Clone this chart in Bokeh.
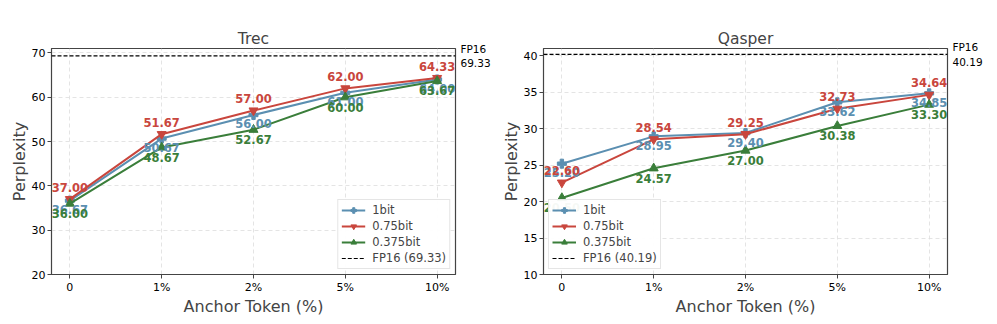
from bokeh.plotting import figure
from bokeh.layouts import row
from bokeh.models import ColumnDataSource, FixedTicker, Legend, LegendItem, Span, Range1d, LinearAxis
from bokeh.embed import file_html
from bokeh.resources import INLINE

x_labels = ["0", "1%", "2%", "5%", "10%"]
x_pos = [0, 1, 2, 3, 4]

trec_1bit = [36.67, 50.67, 56.00, 61.00, 64.00]
trec_075bit = [37.00, 51.67, 57.00, 62.00, 64.33]
trec_0375bit = [36.00, 48.67, 52.67, 60.00, 63.67]
trec_fp16 = 69.33

qasper_1bit = [25.20, 28.95, 29.40, 33.62, 34.85]
qasper_075bit = [22.60, 28.54, 29.25, 32.73, 34.64]
qasper_0375bit = [20.50, 24.57, 27.00, 30.38, 33.30]
qasper_fp16 = 40.19

BLUE = "#5b8fb1"
RED = "#c9463d"
GREEN = "#3a7e3a"
FONT = "DejaVu Sans"


def style_axis(ax):
    ax.major_label_text_font = FONT
    ax.major_label_text_font_size = "11px"
    ax.major_label_text_color = "black"
    ax.axis_label_text_font = FONT
    ax.axis_label_text_font_size = "16px"
    ax.axis_label_text_font_style = "normal"
    ax.axis_line_color = "#444444"
    ax.major_tick_line_color = "#444444"
    ax.major_tick_in = 0
    ax.major_tick_out = 4
    ax.minor_tick_line_color = None
    ax.major_label_standoff = 2
    ax.axis_label_standoff = 0


def make(title, s1, s2, s3, fp16, yr, yticks, legend_loc, bl, br):
    p = figure(output_backend="svg", toolbar_location=None,
               frame_width=404, frame_height=226,
               min_border_left=bl, min_border_right=br, min_border_top=48, min_border_bottom=34,
               x_range=Range1d(-0.2, 4.2), y_range=Range1d(*yr))
    p.title.text = title
    p.title.align = "center"
    p.title.text_font = FONT
    p.title.text_font_size = "15.5px"
    p.title.text_font_style = "normal"
    p.title.standoff = 2

    p.xaxis.ticker = FixedTicker(ticks=x_pos)
    p.xaxis.major_label_overrides = {i: l for i, l in zip(x_pos, x_labels)}
    p.yaxis.ticker = FixedTicker(ticks=yticks)
    style_axis(p.xaxis[0])
    style_axis(p.yaxis[0])
    p.xaxis.axis_label = "Anchor Token (%)"
    p.yaxis.axis_label = "Perplexity"
    p.outline_line_color = "#444444"
    p.outline_line_width = 1.2
    for g in (p.xgrid, p.ygrid):
        g.grid_line_color = "#dddddd"
        g.grid_line_dash = "4 3"
        g.grid_line_width = 0.8

    items = []
    specs = [("1bit", s1, BLUE, "plus"), ("0.75bit", s2, RED, "inverted_triangle"),
             ("0.375bit", s3, GREEN, "triangle")]
    for name, vals, col, mk in specs:
        src = ColumnDataSource(dict(x=x_pos, y=vals))
        l = p.line("x", "y", source=src, line_color=col, line_width=2)
        m = p.scatter("x", "y", source=src, marker=mk, size=9, fill_color=col, line_color=col)
        items.append(LegendItem(label=name, renderers=[l, m]))
    for name, vals, col, mk in specs:
        src = ColumnDataSource(dict(x=x_pos, y=vals, t=["%.2f" % v for v in vals]))
        yoff = -12 if name == "0.75bit" else (9 if name == "1bit" else 10)
        p.text("x", "y", text="t", source=src, text_color=col, text_font_size="11.5px",
               text_font_style="bold", text_align="center", text_baseline="middle",
               y_offset=yoff, text_font={"value": FONT})

    p.add_layout(Span(location=fp16, dimension="width", line_color="black",
                      line_dash="4 2", line_width=1.1))
    # legend-only renderer (NaN data, draws nothing in the plot)
    dummy = p.line(x=x_pos, y=[float("nan")] * len(x_pos), line_color="black",
                   line_dash="4 2", line_width=1.1)
    items.append(LegendItem(label="FP16 (%.2f)" % fp16, renderers=[dummy]))

    # FP16 annotation as a right-side axis label
    rax = LinearAxis(ticker=FixedTicker(ticks=[fp16]))
    rax.major_label_overrides = {fp16: "FP16\n%.2f" % fp16}
    rax.major_label_text_font = FONT
    rax.major_label_text_font_size = "10.5px"
    rax.major_label_text_color = "black"
    rax.axis_line_color = None
    rax.major_tick_line_color = None
    rax.minor_tick_line_color = None
    rax.major_tick_out = 0
    rax.major_tick_in = 0
    rax.major_label_standoff = 5
    p.add_layout(rax, "right")

    leg = Legend(items=items, location=legend_loc)
    leg.label_text_font = FONT
    leg.label_text_font_size = "11.5px"
    leg.glyph_width = 24
    leg.glyph_height = 14
    leg.label_height = 14
    leg.label_standoff = 7
    leg.spacing = 2
    leg.padding = 3
    leg.margin = 5
    leg.border_line_color = "#cccccc"
    leg.border_line_width = 1
    leg.background_fill_alpha = 0.95
    p.add_layout(leg)
    return p


p1 = make("Trec", trec_1bit, trec_075bit, trec_0375bit, trec_fp16, (20, 71),
          [20, 30, 40, 50, 60, 70], "bottom_right", 51, 41)
p2 = make("Qasper", qasper_1bit, qasper_075bit, qasper_0375bit, qasper_fp16, (10, 41),
          [10, 15, 20, 25, 30, 35, 40], "bottom_left", 47, 42)

p = row(p1, p2)
open("out.html", "w").write(file_html(p, INLINE))
